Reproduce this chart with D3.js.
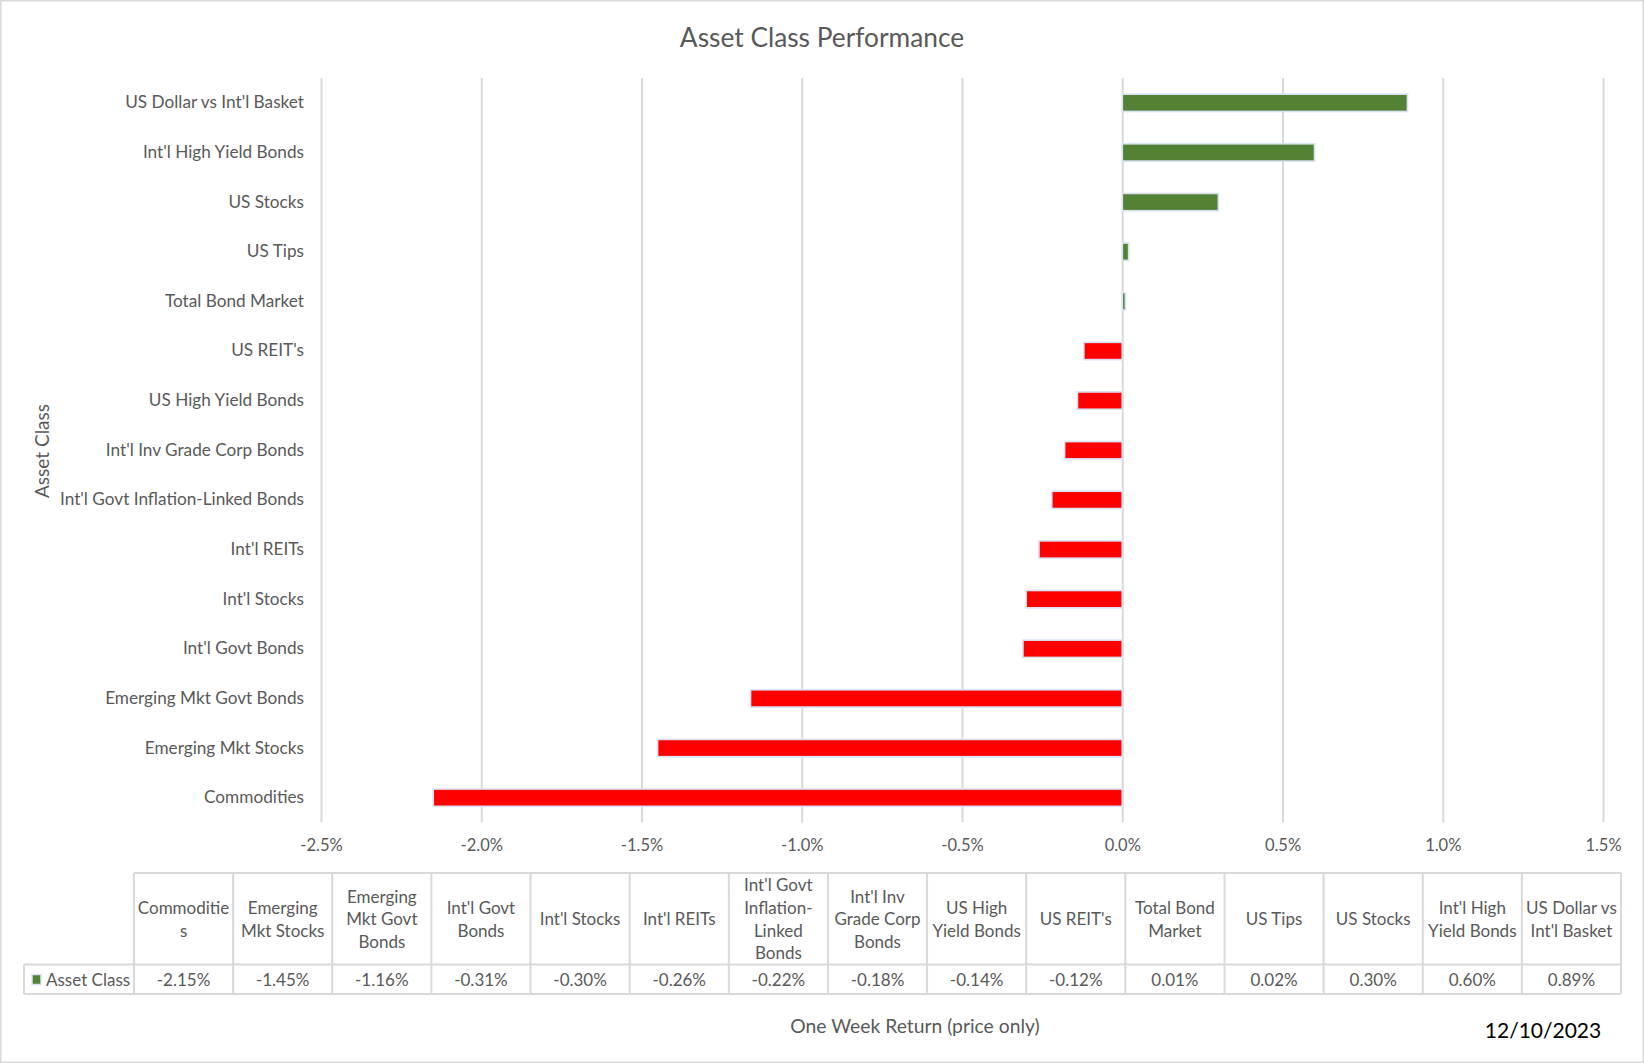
<!DOCTYPE html>
<html>
<head>
<meta charset="utf-8">
<script src="https://cdn.jsdelivr.net/npm/d3@7"></script>
<style>
  body { margin: 0; background: #fff; }
  text { font-family: Lato, "Open Sans", sans-serif; }
</style>
</head>
<body>
<script>
const width = 1644;
const height = 1063;

// data, in the table's order (bottom bar first)
const categories = ["Commodities", "Emerging Mkt Stocks", "Emerging Mkt Govt Bonds", "Int'l Govt Bonds",
  "Int'l Stocks", "Int'l REITs", "Int'l Govt Inflation-Linked Bonds", "Int'l Inv Grade Corp Bonds",
  "US High Yield Bonds", "US REIT's", "Total Bond Market", "US Tips", "US Stocks",
  "Int'l High Yield Bonds", "US Dollar vs Int'l Basket"];
const returns = [-0.0215, -0.0145, -0.0116, -0.0031, -0.0030, -0.0026, -0.0022, -0.0018,
  -0.0014, -0.0012, 0.0001, 0.0002, 0.0030, 0.0060, 0.0089];
// how Excel wrapped the names in the data table
const headerLines = [["Commoditie", "s"], ["Emerging", "Mkt Stocks"], ["Emerging", "Mkt Govt", "Bonds"],
  ["Int'l Govt", "Bonds"], ["Int'l Stocks"], ["Int'l REITs"], ["Int'l Govt", "Inflation-", "Linked", "Bonds"],
  ["Int'l Inv", "Grade Corp", "Bonds"], ["US High", "Yield Bonds"], ["US REIT's"], ["Total Bond", "Market"],
  ["US Tips"], ["US Stocks"], ["Int'l High", "Yield Bonds"], ["US Dollar vs", "Int'l Basket"]];
const xTicks = [-0.025, -0.02, -0.015, -0.01, -0.005, 0, 0.005, 0.01, 0.015];
const seriesName = "Asset Class";

const grey = '#595959';
const lineGrey = '#d9d9d9';
const green = '#548235';
const red = '#ff0000';
const barEdge = '#dae3f3';

// plain hyphen for negatives, like Excel
const loc = d3.formatLocale({decimal: '.', thousands: ',', grouping: [3], currency: ['$', ''], minus: '-'});
const pct1 = loc.format('.1%');
const pct2 = loc.format('.2%');

const svg = d3.select('body').append('svg').attr('width', width).attr('height', height);

svg.append('rect')
  .attr('x', 0.75).attr('y', 0.75)
  .attr('width', width - 1.5).attr('height', height - 1.5)
  .style('fill', 'white').style('stroke', lineGrey).style('stroke-width', 1.5);

const plotTop = 78, plotBottom = 822.5;

const xs = d3.scaleLinear().domain([-0.025, 0.015]).range([321, 1603]);
const ys = d3.scaleBand().domain(categories.slice().reverse()).range([plotTop, plotBottom]);

// gridlines
svg.append('g')
  .attr('transform', 'translate(0,' + plotBottom + ')')
  .call(d3.axisBottom(xs).tickValues(xTicks).tickSize(-(plotBottom - plotTop)).tickFormat(''))
  .call(g => g.select('.domain').remove())
  .selectAll('line')
    .style('stroke', lineGrey)
    .style('stroke-width', 2);

// x tick labels
svg.append('g')
  .attr('transform', 'translate(0,' + plotBottom + ')')
  .call(d3.axisBottom(xs).tickValues(xTicks).tickSize(0).tickPadding(17).tickFormat(pct1))
  .call(g => g.select('.domain').remove())
  .selectAll('text')
    .style('font-family', 'Lato, sans-serif')
    .style('font-size', '16.5px')
    .style('fill', grey);

// bars
const barH = ys.bandwidth() * 0.35;
svg.append('g')
  .selectAll('rect')
  .data(categories)
  .enter()
  .append('rect')
  .attr('x', function(d, i){ return Math.min(xs(0), xs(returns[i])) })
  .attr('y', function(d){ return ys(d) + ys.bandwidth() / 2 - barH / 2 })
  .attr('width', function(d, i){ return Math.abs(xs(returns[i]) - xs(0)) })
  .attr('height', barH)
  .style('fill', function(d, i){ return returns[i] < 0 ? red : green })
  .style('stroke', barEdge)
  .style('stroke-width', 1.7);

// category labels
svg.append('g')
  .attr('transform', 'translate(321,0)')
  .call(d3.axisLeft(ys).tickSize(0).tickPadding(17))
  .call(g => g.select('.domain').remove())
  .selectAll('text')
    .style('font-family', 'Lato, sans-serif')
    .style('font-size', '17.2px')
    .style('fill', grey);

// titles
svg.append('text')
  .attr('x', 822).attr('y', 37)
  .attr('text-anchor', 'middle').attr('dominant-baseline', 'central')
  .style('font-size', '26.3px').style('fill', grey)
  .text('Asset Class Performance');

svg.append('text')
  .attr('transform', 'translate(41,451) rotate(-90)')
  .attr('text-anchor', 'middle').attr('dominant-baseline', 'central')
  .style('font-size', '19px').style('fill', grey)
  .text('Asset Class');

svg.append('text')
  .attr('x', 915).attr('y', 1025)
  .attr('text-anchor', 'middle').attr('dominant-baseline', 'central')
  .style('font-size', '19.3px').style('fill', grey)
  .text('One Week Return (price only)');

svg.append('text')
  .attr('x', 1543).attr('y', 1029)
  .attr('text-anchor', 'middle').attr('dominant-baseline', 'central')
  .style('font-size', '21px').style('fill', 'black')
  .text('12/10/2023');

// data table
const tLeft = 134, tRight = 1621, tTop = 873, tMid = 964.5, tBot = 994;
const legLeft = 24;
const cols = d3.scaleBand().domain(categories).range([tLeft, tRight]);
const table = svg.append('g');

const hLines = [[tLeft, tRight, tTop], [legLeft, tRight, tMid], [legLeft, tRight, tBot]];
table.selectAll('line.h')
  .data(hLines)
  .enter()
  .append('line')
  .attr('x1', d => d[0]).attr('x2', d => d[1])
  .attr('y1', d => d[2]).attr('y2', d => d[2])
  .style('stroke', lineGrey).style('stroke-width', 2);

const vLines = categories.map(c => cols(c)).concat([tRight]);
table.selectAll('line.v')
  .data(vLines)
  .enter()
  .append('line')
  .attr('x1', d => d).attr('x2', d => d)
  .attr('y1', tTop).attr('y2', tBot)
  .style('stroke', lineGrey).style('stroke-width', 2);
table.append('line')
  .attr('x1', legLeft).attr('x2', legLeft)
  .attr('y1', tMid).attr('y2', tBot)
  .style('stroke', lineGrey).style('stroke-width', 2);

const lineH = 22.7;
const headY = (tTop + tMid) / 2;
categories.forEach(function(c, i) {
  const lines = headerLines[i];
  const t = table.append('text')
    .attr('text-anchor', 'middle')
    .style('font-size', '17px').style('fill', grey);
  lines.forEach(function(l, j) {
    t.append('tspan')
      .attr('x', cols(c) + cols.bandwidth() / 2)
      .attr('y', headY + (j - (lines.length - 1) / 2) * lineH)
      .attr('dominant-baseline', 'central')
      .text(l);
  });
});

table.selectAll('text.val')
  .data(categories)
  .enter()
  .append('text')
  .attr('x', d => cols(d) + cols.bandwidth() / 2)
  .attr('y', (tMid + tBot) / 2)
  .attr('text-anchor', 'middle').attr('dominant-baseline', 'central')
  .style('font-size', '17px').style('fill', grey)
  .text((d, i) => pct2(returns[i]));

// legend key
table.append('rect')
  .attr('x', 32).attr('y', 974.5).attr('width', 9).attr('height', 10)
  .style('fill', green).style('stroke', barEdge).style('stroke-width', 1.5);
table.append('text')
  .attr('x', 46).attr('y', (tMid + tBot) / 2)
  .attr('dominant-baseline', 'central')
  .style('font-size', '17px').style('fill', grey)
  .text(seriesName);
</script>
</body>
</html>
